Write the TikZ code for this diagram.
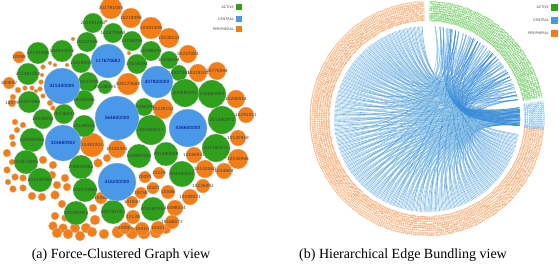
\documentclass[tikz,border=0pt]{standalone}
\usepackage{fontspec}
\setmainfont{Liberation Serif}
\newfontfamily\lblfont{DejaVu Sans}
\definecolor{cgreen}{HTML}{2FA01C}
\definecolor{cblue}{HTML}{4A98E8}
\definecolor{corange}{HTML}{F57D16}
\definecolor{rgreen}{HTML}{4CBF3C}
\definecolor{rblue}{HTML}{62ACE8}
\definecolor{rorange}{HTML}{F39044}
\definecolor{edk}{HTML}{3A8CDA}
\definecolor{elt}{HTML}{8EC4E6}
\begin{document}
\begin{tikzpicture}[x=1pt,y=-1pt,
  bubg/.style={circle,fill=cgreen,draw=black!20,line width=0.25pt,inner sep=0pt},
  bubb/.style={circle,fill=cblue,draw=black!20,line width=0.25pt,inner sep=0pt},
  bubo/.style={circle,fill=corange,draw=black!20,line width=0.25pt,inner sep=0pt},
  lbl/.style={font=\lblfont\fontsize{4.3}{4.3}\selectfont,text=black!75,inner sep=0pt},
  lblb/.style={font=\lblfont\fontsize{4.3}{4.3}\selectfont,text=blue!55!black,inner sep=0pt},
  ringo/.style={font=\lblfont\fontsize{3.6}{3.6}\selectfont,text=rorange,inner sep=0pt},
  ringg/.style={font=\lblfont\fontsize{3.6}{3.6}\selectfont,text=rgreen,inner sep=0pt},
  ringb/.style={font=\lblfont\fontsize{3.6}{3.6}\selectfont,text=rblue,inner sep=0pt},
  edark/.style={draw=edk,opacity=0.65,line width=0.6pt},
  elight/.style={draw=elt,opacity=0.8,line width=0.6pt},
  legt/.style={font=\lblfont\fontsize{3.4}{3.4}\selectfont,text=black!70,anchor=east,inner sep=0pt},
  captext/.style={font=\fontsize{14}{16}\selectfont,inner sep=0pt}
]
\useasboundingbox (0,0) rectangle (559,263);

% ---------------- left panel: force clustered graph ----------------
\foreach \x/\y/\r [count=\k] in {
 73/39/2,106/21/1.5,129/53/2,43/67/2.5,50/63/2,55/65/2,67/65/2,42/75/2,41/82/2.5,40/89/2.5,
 18/90/3,25/88/2.5,32/88/2.5,13/97/3,43/96/2.5,50/103/3,53/108/2.5,36/91/2,
 15/122/3,23/125/3,17/130/3,12/137/3,13/144/3,7/153/4,12/162/3,7/170/3.5,15/177/3.5,
 8/182/3,23/178/3.5,23/188/3.5,13/189/3.5,32/196/4,42/197/4,43/160/4,53/165/4,52/175/4,
 57/185/4,65/178/4,67/187/4,55/195/4.5,62/204/4,55/216/4,65/218/3.5,53/226/4.5,
 63/228/4.5,75/228/5,86/228/5,95/220/5,93/208/4,107/158/4,98/163/4.5,
 57/233/5,68/234/5,80/236/5,92/232/5,104/234/5,118/232/6,132/233/6,144/233/6,156/232/6,166/229/5}
{ \node[bubo,minimum size={2*\r}] (s\k) at (\x,\y) {}; }

\foreach \x/\y/\r/\t [count=\k] in {
 111/8/11/302791000,131/18/10/10219098,151/28/11/10491009,169/38/10/10230102,
 188/54/9/20257081,198/73/9/10219101,217/71/9/20770094,128/84/11/308170680,
 163/109/10/10239102,236/99/9/10280914,246/115/8/10291011,92/145/12/10491002,
 117/149/9/10181091,238/138/8/10140918,238/159/10/10140946,194/155/8/10160931,
 205/169/9/10142060,224/171/8/1014804,203/186/7/10126092,190/197/8/10190071,
 175/208/8/10098034,172/222/7/10168072,19/57/6/10098,9/83/6/100692,12/103/4/10079,
 132/202/6/101800,101/198/6/10061,145/177/6/10091,159/173/6/10129,153/188/6/10207,
 168/192/7/10086,141/193/6/10158,133/217/7/10138,125/228/6/10090,142/229/7/10410,
 158/228/7/10421}
{ \node[bubo,minimum size={2*\r}] (o\k) at (\x,\y) {};
  \node[lbl] (ol\k) at (o\k) {\t}; }

\foreach \x/\y/\r/\t [count=\k] in {
 93/23/10/201091200,113/33/10/102870690,132/41/10/20158094,151/51/10/20098094,
 169/60/9/10096094,179/73/8/10027081,38/53/11/10137088,62/51/11/104610032,
 87/42/10/10022068,81/63/10/10018093,137/64/10/10158094,28/74/11/201491000,
 88/82/10/10037088,105/87/7/20148093,29/102/11/10097088,84/100/10/10259096,
 64/114/10/30136093,43/119/10/30029094,84/126/11/20149094,144/107/9/30298094,
 185/93/14/300680950,212/94/14/106680903,151/130/15/302460827,222/120/14/201490972,
 216/148/14/203780914,32/140/12/100980904,166/154/12/201480959,139/156/12/104980942,
 182/174/13/304280937,81/167/12/206830050,26/162/12/103670895,40/180/12/203190984,
 85/190/12/102070884,153/209/12/204280930,113/212/12/303791021,76/213/12/100380941}
{ \node[bubg,minimum size={2*\r}] (g\k) at (\x,\y) {};
  \node[lbl] (gl\k) at (g\k) {\t}; }

\foreach \x/\y/\r/\t [count=\k] in {
 108/61/17/117670683,62/86/18/415400000,157/82/16/407800000,117/118/22/564600000,
 188/128/19/436600000,63/143/18/324680902,117/182/19/416200000}
{ \node[bubb,minimum size={2*\r}] (b\k) at (\x,\y) {};
  \node[lblb] (bl\k) at (b\k) {\t}; }

\node[fill=cgreen,minimum size=6,inner sep=0pt] (la1) at (239,7) {};
\node[fill=cblue,minimum size=6,inner sep=0pt] (la2) at (239,19) {};
\node[fill=corange,minimum size=6,inner sep=0pt] (la3) at (239,29) {};
\node[legt] (lat1) at (234,7) {ACTIVE};
\node[legt] (lat2) at (234,19) {CENTRAL};
\node[legt] (lat3) at (234,29) {PERIPHERAL};

% ---------------- right panel: hierarchical edge bundling ----------------
\def\cx{427}\def\cy{119}
\foreach \i in {0,...,322}{
  \pgfmathsetmacro\th{93+\i*0.8}
  \pgfmathtruncatemacro\sel{mod(\i,5)}
  \pgfmathtruncatemacro\dk{mod(\i*7,3)}
  \coordinate (p\i) at ({\cx+93*cos(\th)},{\cy-93*sin(\th)});
  \coordinate (q\i) at ({\cx+36*cos(\th)},{\cy-36*sin(\th)});
  \ifnum\sel<2
    \pgfmathsetmacro\ph{12+mod(\i*23,75)}
    \coordinate (h\i) at (448,108);
  \else
    \pgfmathsetmacro\ph{-4+mod(\i*7,12)}
    \coordinate (h\i) at (465,119);
  \fi
  \coordinate (t\i) at ({\cx+93*cos(\ph)},{\cy-93*sin(\ph)});
  \ifnum\dk=0
    \draw[edark] (p\i) .. controls (q\i) and (h\i) .. (t\i);
  \else
    \draw[elight] (p\i) .. controls (q\i) and (h\i) .. (t\i);
  \fi
}
\foreach \i in {0,...,30}{
  \pgfmathsetmacro\pa{-4+mod(\i*5,12)}
  \pgfmathsetmacro\pb{14+mod(\i*17,70)}
  \coordinate (u\i) at ({\cx+93*cos(\pa)},{\cy-93*sin(\pa)});
  \coordinate (v\i) at ({\cx+93*cos(\pb)},{\cy-93*sin(\pb)});
  \draw[edark] (u\i) .. controls (440,118) and (445,100) .. (v\i);
}

\foreach \a [count=\k] in {92,93,...,355}{
  \ifdim \a pt<270pt
    \node[ringo,anchor=east,rotate=\a+180] (ro\k) at ({\cx+97*cos(\a)},{\cy-97*sin(\a)}) {\the\numexpr 100000000+\k*7919\relax};
  \else
    \node[ringo,anchor=west,rotate=\a] (ro\k) at ({\cx+97*cos(\a)},{\cy-97*sin(\a)}) {\the\numexpr 100000000+\k*7919\relax};
  \fi
}
\foreach \a [count=\k] in {11,12,...,88}{
  \node[ringg,anchor=west,rotate=\a] (rg\k) at ({\cx+97*cos(\a)},{\cy-97*sin(\a)}) {\the\numexpr 200000000+\k*6131\relax};
}
\foreach \a [count=\k] in {-5,-4,...,8}{
  \node[ringb,anchor=west,rotate=\a] (rb\k) at ({\cx+97*cos(\a)},{\cy-97*sin(\a)}) {\the\numexpr 400000000+\k*3000000\relax};
}

\node[fill=cgreen,minimum size=7,inner sep=0pt] (lb1) at (554,7) {};
\node[fill=cblue,minimum size=7,inner sep=0pt] (lb2) at (554,20) {};
\node[fill=corange,minimum size=7,inner sep=0pt] (lb3) at (554,33) {};
\node[legt] (lbt1) at (549,7) {ACTIVE};
\node[legt] (lbt2) at (549,20) {CENTRAL};
\node[legt] (lbt3) at (549,33) {PERIPHERAL};

\node[captext] (capa) at (121,255) {(a) Force-Clustered Graph view};
\node[captext] (capb) at (403,255) {(b) Hierarchical Edge Bundling view};
\end{tikzpicture}
\end{document}
